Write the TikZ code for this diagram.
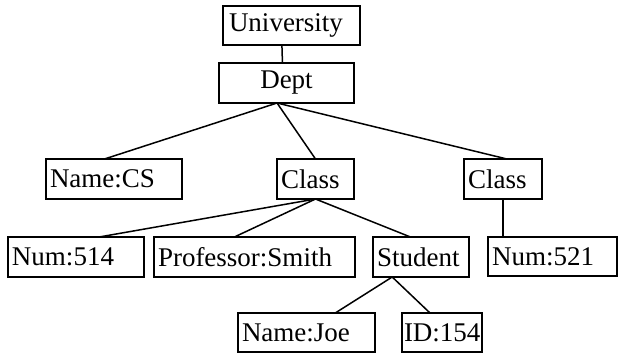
\documentclass[tikz,border=0pt]{standalone}
\usepackage{fontspec}
\setmainfont{Liberation Serif}
\usetikzlibrary{calc}

\begin{document}
\begin{tikzpicture}[
  x=1pt, y=1pt,
  item/.style={
    draw,
    line width=1.5pt,
    outer sep=0pt,
    inner xsep=4pt,
    anchor=north west,
    align=left,
    font=\fontsize{27}{30}\selectfont,
    minimum height=40pt
  },
  edge/.style={line width=1.5pt}
]
\useasboundingbox (0,0) rectangle (618,-353);

\node[item, text width=125pt, inner xsep=6pt, minimum height=39pt] (univ) at (223,-6) {University};
\node[item, text width=127pt, align=center] (dept) at (219,-63) {Dept};

\node[item, text width=128pt] (namecs) at (46,-159) {Name:CS};
\node[item, text width=69pt] (classa) at (277,-159) {Class};
\node[item, text width=70pt] (classb) at (464,-159) {Class};

\node[item, text width=128pt] (numa) at (8,-237) {Num:514};
\node[item, text width=193pt] (prof) at (154,-237) {Professor:Smith};
\node[item, text width=88pt] (student) at (373,-237) {Student};
\node[item, text width=121pt, minimum height=39pt] (numb) at (488,-237) {Num:521};

\node[item, text width=129pt, minimum height=39pt] (namejoe) at (238,-313) {Name:Joe};
\node[item, text width=76pt, inner xsep=2pt, minimum height=39pt] (idb) at (402,-313) {ID:154};

\draw[edge] ($(univ.south west)!.43!(univ.south east)$) -- ($(dept.north west)!.47!(dept.north east)$);

\draw[edge] ($(dept.south west)!.43!(dept.south east)$) -- ($(namecs.north west)!.43!(namecs.north east)$);
\draw[edge] ($(dept.south west)!.43!(dept.south east)$) -- (classa.north);
\draw[edge] ($(dept.south west)!.43!(dept.south east)$) -- ($(classb.north west)!.55!(classb.north east)$);

\draw[edge] (classa.south) -- ($(numa.north west)!.67!(numa.north east)$);
\draw[edge] (classa.south) -- ($(prof.north west)!.40!(prof.north east)$);
\draw[edge] (classa.south) -- ($(student.north west)!.39!(student.north east)$);

\draw[edge] (classb.south) -- (classb.south |- numb.north);

\draw[edge] ($(student.south west)!.2!(student.south east)$) -- ($(namejoe.north west)!.71!(namejoe.north east)$);
\draw[edge] ($(student.south west)!.2!(student.south east)$) -- ($(idb.north west)!.35!(idb.north east)$);
\end{tikzpicture}
\end{document}
